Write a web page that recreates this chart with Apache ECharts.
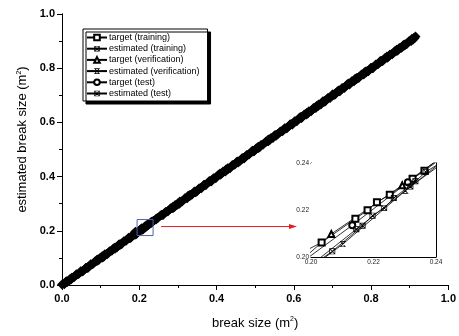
<!DOCTYPE html>
<html><head><meta charset="utf-8">
<script src="https://cdn.jsdelivr.net/npm/echarts@6/dist/echarts.min.js"></script>
<style>html,body{margin:0;padding:0;background:#fff}#c{width:459px;height:336px}</style>
</head><body><div id="c"></div>
<script>
// ---- data (x = break size, y = estimated break size) ----
const seriesNames = ['target (training)','estimated (training)','target (verification)','estimated (verification)','target (test)','estimated (test)'];
const targetTraining = [[0.000,0.002],[0.012,0.014],[0.025,0.027],[0.037,0.040],[0.049,0.051],[0.062,0.064],[0.074,0.077],[0.086,0.088],[0.099,0.101],[0.111,0.114],[0.123,0.125],[0.136,0.138],[0.148,0.151],[0.160,0.162],[0.173,0.175],[0.185,0.188],[0.190,0.197],[0.2034,0.2062],[0.2142,0.2163],[0.2181,0.2199],[0.2211,0.2233],[0.2252,0.2265],[0.2325,0.2333],[0.2363,0.2367],[0.2425,0.2428],[0.255,0.257],[0.268,0.270],[0.281,0.283],[0.293,0.295],[0.305,0.308],[0.318,0.320],[0.330,0.332],[0.343,0.345],[0.355,0.357],[0.367,0.369],[0.380,0.382],[0.392,0.394],[0.404,0.406],[0.417,0.419],[0.429,0.431],[0.441,0.443],[0.454,0.456],[0.466,0.468],[0.478,0.480],[0.491,0.493],[0.503,0.505],[0.515,0.517],[0.528,0.530],[0.540,0.542],[0.552,0.554],[0.565,0.567],[0.577,0.579],[0.590,0.592],[0.602,0.604],[0.614,0.616],[0.627,0.629],[0.639,0.641],[0.651,0.653],[0.664,0.666],[0.676,0.678],[0.688,0.690],[0.701,0.703],[0.713,0.715],[0.725,0.727],[0.738,0.740],[0.750,0.752],[0.762,0.764],[0.775,0.777],[0.787,0.789],[0.799,0.801],[0.812,0.814],[0.824,0.826],[0.836,0.838],[0.849,0.851],[0.861,0.863],[0.873,0.875],[0.886,0.888],[0.898,0.900],[0.910,0.912],[0.915,0.917]];
const estimatedTraining = [[0.006,0.003],[0.018,0.015],[0.031,0.028],[0.043,0.040],[0.055,0.052],[0.068,0.064],[0.080,0.077],[0.092,0.089],[0.105,0.101],[0.117,0.113],[0.129,0.126],[0.142,0.138],[0.154,0.150],[0.166,0.163],[0.179,0.175],[0.195,0.1915],[0.2068,0.2024],[0.2165,0.2133],[0.2197,0.2176],[0.2234,0.2209],[0.2265,0.2251],[0.2334,0.2322],[0.2367,0.2362],[0.2435,0.2418],[0.261,0.258],[0.274,0.271],[0.287,0.283],[0.299,0.296],[0.311,0.308],[0.324,0.320],[0.336,0.333],[0.349,0.345],[0.361,0.357],[0.373,0.370],[0.386,0.382],[0.398,0.394],[0.410,0.407],[0.423,0.419],[0.435,0.431],[0.447,0.444],[0.460,0.456],[0.472,0.468],[0.484,0.481],[0.497,0.493],[0.509,0.505],[0.521,0.518],[0.534,0.530],[0.546,0.542],[0.558,0.555],[0.571,0.567],[0.583,0.579],[0.596,0.592],[0.608,0.604],[0.620,0.616],[0.633,0.629],[0.645,0.641],[0.657,0.653],[0.670,0.666],[0.682,0.678],[0.694,0.690],[0.707,0.703],[0.719,0.715],[0.731,0.727],[0.744,0.740],[0.756,0.752],[0.768,0.764],[0.781,0.777],[0.793,0.789],[0.805,0.801],[0.818,0.814],[0.830,0.826],[0.842,0.838],[0.855,0.851],[0.867,0.863],[0.879,0.875],[0.892,0.888],[0.904,0.900],[0.913,0.911]];
const targetVerification = [[0.010,0.012],[0.048,0.050],[0.091,0.094],[0.133,0.135],[0.172,0.174],[0.190,0.1905],[0.2065,0.2098],[0.2292,0.2305],[0.2450,0.2455],[0.287,0.289],[0.326,0.329],[0.368,0.370],[0.409,0.412],[0.452,0.454],[0.493,0.496],[0.534,0.537],[0.576,0.578],[0.617,0.620],[0.659,0.661],[0.700,0.703],[0.741,0.744],[0.783,0.785],[0.824,0.827],[0.866,0.868],[0.905,0.908]];
const estimatedVerification = [[0.014,0.011],[0.053,0.050],[0.095,0.092],[0.137,0.134],[0.176,0.172],[0.192,0.1875],[0.2102,0.2055],[0.2302,0.2282],[0.2480,0.2470],[0.291,0.288],[0.331,0.328],[0.372,0.369],[0.413,0.410],[0.456,0.452],[0.497,0.494],[0.538,0.535],[0.580,0.577],[0.621,0.618],[0.663,0.660],[0.704,0.701],[0.745,0.742],[0.787,0.784],[0.828,0.825],[0.870,0.867],[0.909,0.906]];
const targetTest = [[0.020,0.021],[0.062,0.063],[0.104,0.106],[0.146,0.147],[0.185,0.186],[0.2132,0.2135],[0.2310,0.2318],[0.258,0.259],[0.300,0.302],[0.342,0.343],[0.383,0.385],[0.425,0.427],[0.467,0.468],[0.508,0.510],[0.550,0.552],[0.592,0.593],[0.633,0.635],[0.675,0.677],[0.716,0.718],[0.758,0.760],[0.800,0.801],[0.841,0.843],[0.883,0.885]];
const estimatedTest = [[0.024,0.021],[0.066,0.063],[0.108,0.104],[0.150,0.147],[0.189,0.185],[0.2145,0.2118],[0.2318,0.2300],[0.262,0.259],[0.304,0.300],[0.346,0.342],[0.387,0.384],[0.429,0.426],[0.471,0.467],[0.512,0.509],[0.554,0.551],[0.596,0.592],[0.637,0.634],[0.679,0.676],[0.720,0.717],[0.762,0.759],[0.804,0.800],[0.845,0.842],[0.887,0.884]];
const mainTicks = [0.0,0.2,0.4,0.6,0.8,1.0];
const insetTicks = [0.20,0.22,0.24];

const allData = [targetTraining, estimatedTraining, targetVerification, estimatedVerification, targetTest, estimatedTest];
// marker glyphs built as filled outlines (holes by opposite winding)
const frame = 'M0,0H10V10H0Z M1.2,1.2V8.8H8.8V1.2Z';
const cross = ' M1,1.9L1.9,1L9,8.1L8.1,9Z M8.1,1L9,1.9L1.9,9L1,8.1Z';
const sqX = 'path://' + frame + cross;
const sqX2 = 'path://' + frame + cross + ' M1,4.5H9V5.5H1Z';
const triX = 'path://M0,0.5H10V1.5H0Z M0,8.5H10V9.5H0Z' + cross;
const symbols = ['emptyRect', sqX, 'emptyTriangle', triX, 'emptyCircle', sqX2];

const FONT = 'Liberation Sans, Arial, sans-serif';
const chart = echarts.init(document.getElementById('c'), null, {renderer:'canvas'});

const mainL = 62, mainT = 14, mainR = 6, mainB = 51;
const axisLine = {show:true, lineStyle:{color:'#000', width:1}};

function mainAxis(pos, labels, name, gap, namePad) {
  return {
    type:'value', gridIndex:0, position:pos, min:mainTicks[0], max:mainTicks[mainTicks.length-1], interval:0.2,
    axisLine: axisLine, splitLine:{show:false},
    axisTick:{show:true, inside:!labels, length: labels?5:2, lineStyle:{color:'#000'}},
    minorTick:{show:true, splitNumber:2, length: labels?3:2, lineStyle:{color:'#000'}},
    axisLabel:{show:labels, margin: pos==='bottom'?8:7, fontFamily:FONT, fontWeight:'bold', fontSize:11, color:'#000', formatter:v=>v.toFixed(1)},
    name: name||'', nameLocation:'middle', nameGap: gap||0,
    nameTextStyle:{fontFamily:FONT, fontSize:13, color:'#000', padding:namePad||0,
      rich:{sup:{fontFamily:FONT, fontSize:7, color:'#000', verticalAlign:'top', padding:[0,0,7,0]}}}
  };
}
function insetAxis(pos, labels) {
  return {
    type:'value', gridIndex:1, position:pos, min:insetTicks[0], max:insetTicks[insetTicks.length-1], interval:0.02,
    axisLine: axisLine, splitLine:{show:false},
    axisTick:{show:true, inside:true, length:3, lineStyle:{color:'#000'}},
    minorTick:{show:true, splitNumber:2, length:2, lineStyle:{color:'#000'}},
    axisLabel:{show:labels, margin:2, fontFamily:FONT, fontSize:6.5, color:'#222', formatter:v=>v.toFixed(2)}
  };
}

const series = [];
allData.forEach((d,i)=>{
  series.push({type:'line', name:'main'+i, xAxisIndex:0, yAxisIndex:0, data:d, symbol:'rect', symbolSize:7, symbolRotate:45,
    itemStyle:{color:'#000'}, lineStyle:{color:'#000', width:6}, silent:true, animation:false, z:2});
});
allData.forEach((d,i)=>{
  series.push({type:'line', name:seriesNames[i], xAxisIndex:2, yAxisIndex:2, data:d, symbol:symbols[i], symbolSize:6,
    itemStyle:{color:'#000', borderWidth:0.8}, lineStyle:{color:'#000', width:0.8}, silent:true, animation:false, clip:true, z:3});
});

chart.setOption({
  animation:false,
  backgroundColor:'#fff',
  textStyle:{fontFamily:FONT},
  grid:[
    {left:mainL, top:mainT, right:mainR, bottom:mainB},
    {left:311, top:163, width:125, height:94, show:true, backgroundColor:'#fff', borderWidth:0, z:3}
  ],
  xAxis:[
    mainAxis('bottom', true, 'break size (m{sup|2})', 31),
    mainAxis('top', false),
    insetAxis('bottom', true),
    insetAxis('top', false)
  ],
  yAxis:[
    mainAxis('left', true, 'estimated break size (m{sup|2})', 31, [0,0,0,20]),
    mainAxis('right', false),
    insetAxis('left', true),
    insetAxis('right', false)
  ],
  legend:{
    data:seriesNames, orient:'vertical', left:83, top:29, width:120,
    itemWidth:20, itemHeight:7, itemGap:2.2,
    padding:[4,8,3,3],
    backgroundColor:'#fff', borderColor:'#000', borderWidth:1,
    shadowColor:'#000', shadowBlur:0, shadowOffsetX:3, shadowOffsetY:3,
    textStyle:{fontFamily:FONT, fontSize:9, color:'#000', padding:[0,0,0,-3]},
    selectedMode:false
  },
  series: series
});

// annotation: blue box around the zoomed region and red arrow to the inset
const c = chart.convertToPixel({gridIndex:0}, [0.215, 0.212]);
const insetPt = chart.convertToPixel({gridIndex:1}, [0.20, 0.2128]);
const ax0 = c[0] + 16, ax1 = insetPt[0] - 14, ay = c[1] - 1;
chart.setOption({
  graphic:[
    {type:'rect', shape:{x:c[0]-8, y:c[1]-8, width:16, height:16}, style:{fill:'none', stroke:'#5060b0', lineWidth:1}, z:10},
    {type:'line', shape:{x1:ax0, y1:ay, x2:ax1-6, y2:ay}, style:{stroke:'#e02020', lineWidth:1}, z:10},
    {type:'polygon', shape:{points:[[ax1,ay],[ax1-8,ay-2.5],[ax1-8,ay+2.5]]}, style:{fill:'#e02020'}, z:10}
  ]
});
</script>
</body></html>
